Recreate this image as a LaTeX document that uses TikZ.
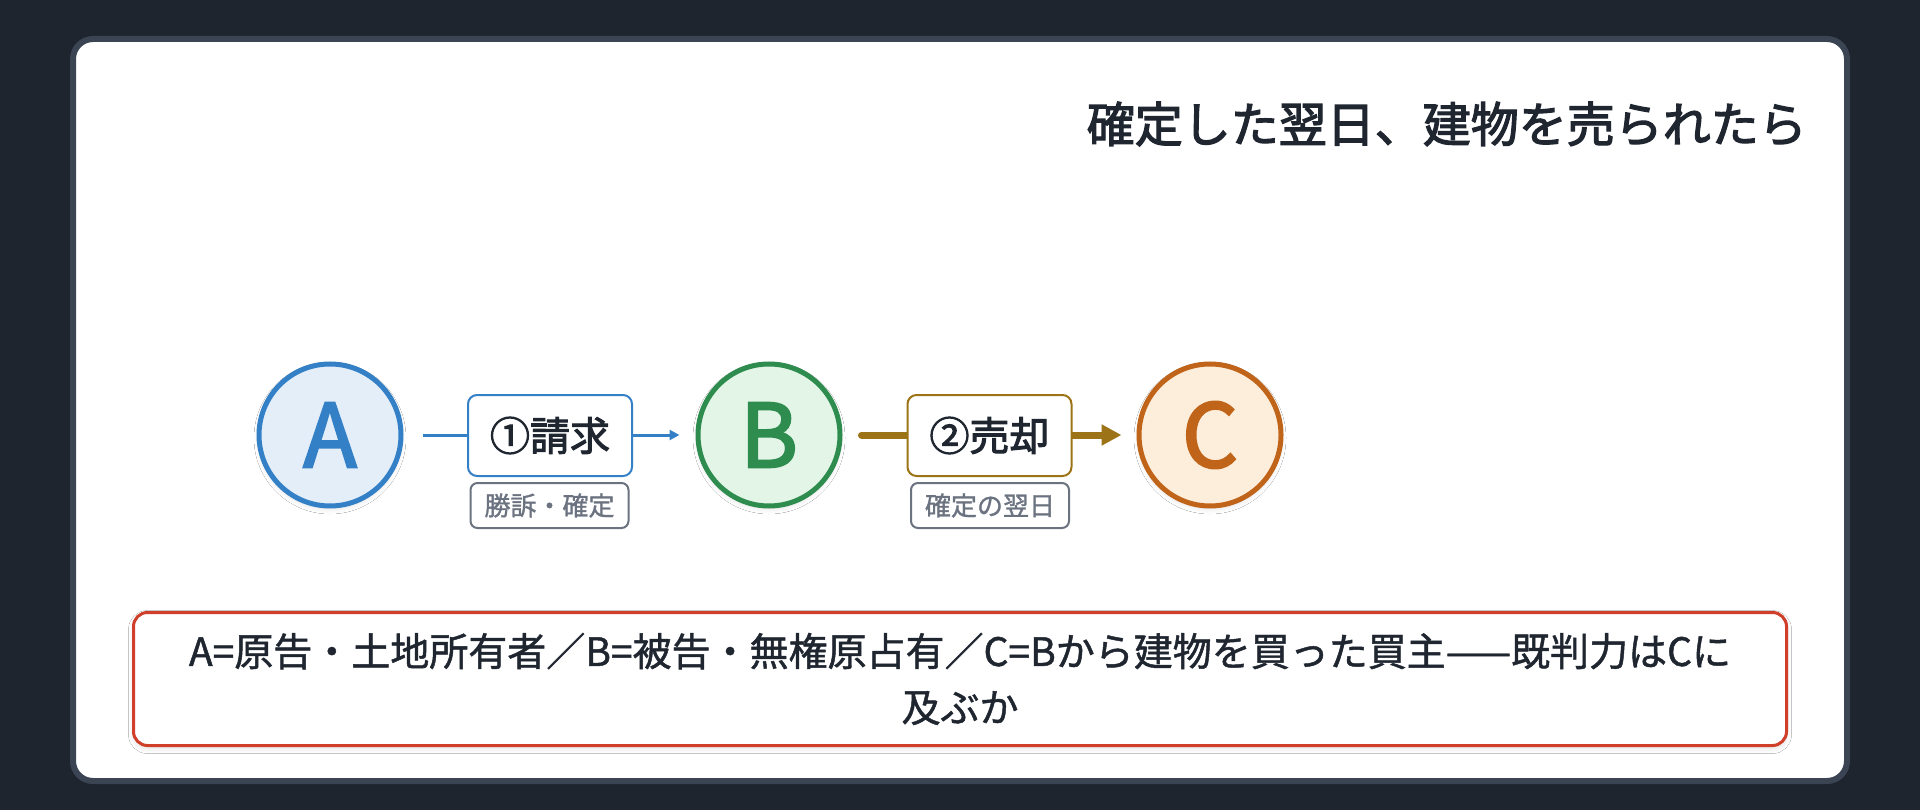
\documentclass[tikz,border=0pt]{standalone}
\usepackage{fontspec}
\setmainfont{Noto Sans CJK JP}
\newfontfamily\jpmed[FakeBold=1.2]{Noto Sans CJK JP}
\newfontfamily\jpsemi[FakeBold=2.5]{Noto Sans CJK JP}
\usetikzlibrary{arrows.meta,shadows.blur}
\definecolor{bgc}{HTML}{1F252F}
\definecolor{panelc}{HTML}{3B4453}
\definecolor{textc}{HTML}{1F2630}
\definecolor{ablue}{HTML}{3380C7}
\definecolor{afill}{HTML}{E4EEF9}
\definecolor{bgreen}{HTML}{2E8C4F}
\definecolor{bfill}{HTML}{E3F5E7}
\definecolor{corange}{HTML}{BF6418}
\definecolor{cfill}{HTML}{FDEEDC}
\definecolor{brownc}{HTML}{9C7417}
\definecolor{subgray}{HTML}{6B7280}
\definecolor{redc}{HTML}{CF3F2A}
\begin{document}
\begin{tikzpicture}[x=1pt,y=-1pt,
  softshadow/.style={blur shadow={shadow blur steps=6, shadow xshift=0pt, shadow yshift=-3pt, shadow blur radius=5pt, shadow opacity=12}},
  party/.style={circle, minimum size=142pt, inner sep=0pt, line width=5pt, softshadow, font=\jpsemi\fontsize{88}{88}\selectfont},
  lbl/.style={draw, line width=2pt, fill=white, rounded corners=9pt, minimum width=164pt, minimum height=81pt, inner sep=0pt, text=textc, font=\jpsemi\fontsize{40}{40}\selectfont},
  subbox/.style={draw=subgray, line width=2pt, fill=white, rounded corners=7pt, minimum width=158pt, minimum height=45pt, inner sep=0pt, text=subgray, font=\jpmed\fontsize{26}{26}\selectfont},
  bluearrow/.style={draw=ablue, line width=3pt, -{Triangle[length=10pt,width=10pt]}},
  brownarrow/.style={draw=brownc, line width=7pt, line cap=round, -{Triangle[length=20pt,width=20pt]}},
  notebox/.style={draw=redc, line width=3pt, fill=white, rounded corners=14pt, minimum width=1653pt, minimum height=133pt, inner sep=0pt, align=center, text=textc, font=\jpmed\fontsize{39}{56}\selectfont, softshadow}
]
\fill[bgc] (0,0) rectangle (1920,810);
\useasboundingbox (0,0) rectangle (1920,810);
\draw[draw=panelc, line width=6pt, fill=white, rounded corners=20pt] (73,39) rectangle (1847,781);

\node[anchor=east, inner sep=0pt, text=textc, font=\jpsemi\fontsize{48}{48}\selectfont] (title) at (1807,124) {確定した翌日、建物を売られたら};

\node[party, draw=ablue, fill=afill, text=ablue] (A) at (330,435) {A};
\node[party, draw=bgreen, fill=bfill, text=bgreen] (B) at (769,435) {B};
\node[party, draw=corange, fill=cfill, text=corange] (C) at (1210,435) {C};

\draw[bluearrow] ([xshift=19pt]A.east) -- ([xshift=-16pt]B.west);
\draw[brownarrow] ([xshift=19pt]B.east) -- ([xshift=-15pt]C.west);

\node[lbl, draw=ablue] (l1) at (550,435.5) {①請求};
\node[subbox] (s1) at (549.5,505.5) {勝訴・確定};
\node[lbl, draw=brownc] (l2) at (989.5,435.5) {②売却};
\node[subbox] (s2) at (990,505.5) {確定の翌日};

\node[notebox] (note) at (960,679) {A=原告・土地所有者／B=被告・無権原占有／C=Bから建物を買った買主——既判力はCに\\及ぶか};
\end{tikzpicture}
\end{document}
